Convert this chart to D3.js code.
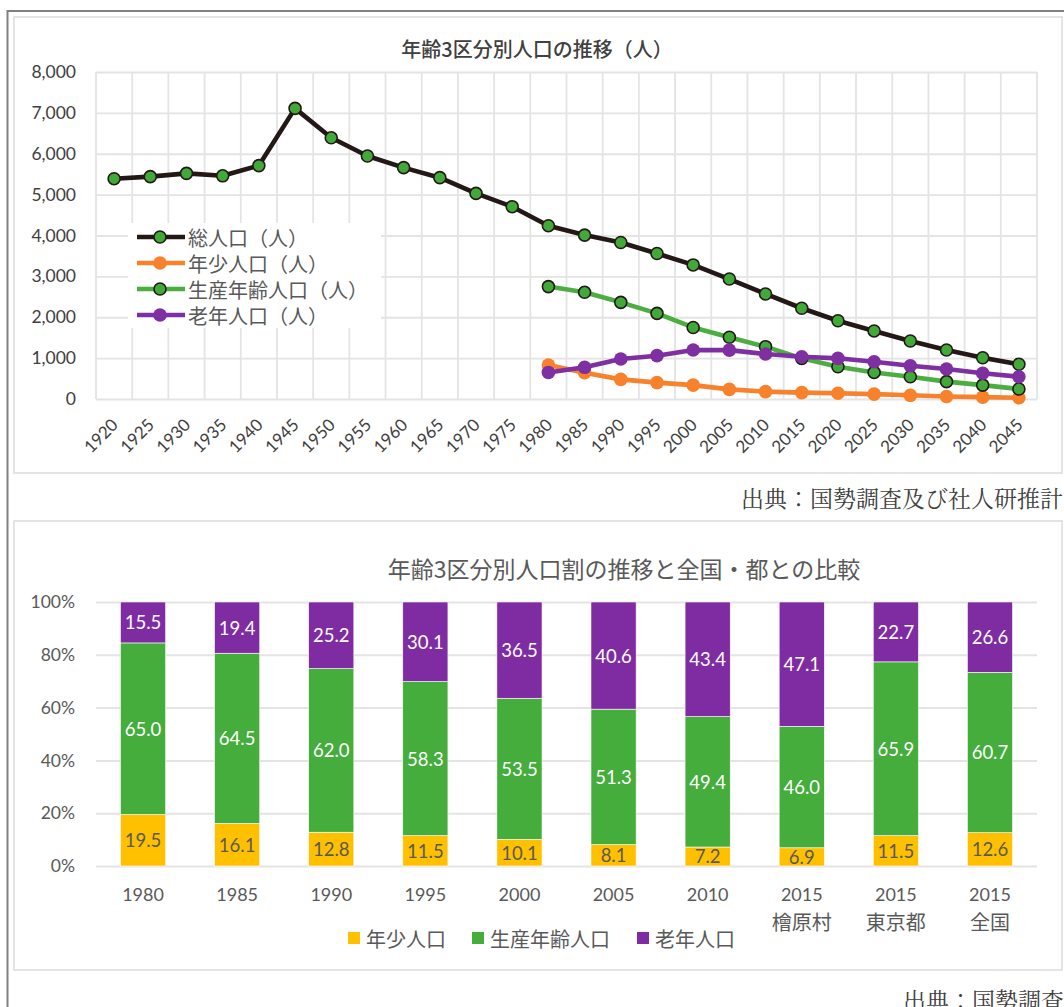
<!DOCTYPE html>
<html>
<head>
<meta charset="utf-8">
<script src="https://cdn.jsdelivr.net/npm/d3@7"></script>
<style>
  body { margin: 0; background: #fff; }
  svg { display: block; }
</style>
</head>
<body>
<div id="chart"></div>
<script>
// 上段：年齢3区分別人口の推移（人）
const years = [1920, 1925, 1930, 1935, 1940, 1945, 1950, 1955, 1960, 1965, 1970, 1975, 1980,
    1985, 1990, 1995, 2000, 2005, 2010, 2015, 2020, 2025, 2030, 2035, 2040, 2045];
const totalPop = [5390, 5440, 5520, 5460, 5710, 7110, 6390, 5945, 5660, 5415, 5030, 4705, 4240,
    4010, 3830, 3560, 3280, 2935, 2570, 2220, 1915, 1665, 1420, 1200, 1010, 850];
const projYears = [1980, 1985, 1990, 1995, 2000, 2005, 2010, 2015, 2020, 2025, 2030, 2035, 2040, 2045];
const youthPop = [830, 645, 480, 400, 340, 235, 180, 155, 140, 120, 90, 60, 45, 30];
const workPop = [2750, 2610, 2365, 2095, 1750, 1510, 1280, 995, 790, 650, 545, 425, 340, 245];
const elderPop = [650, 775, 980, 1060, 1200, 1195, 1100, 1035, 995, 910, 815, 735, 630, 545];
const popTicks = [0, 1000, 2000, 3000, 4000, 5000, 6000, 7000, 8000];
const lineNames = ["総人口（人）", "年少人口（人）", "生産年齢人口（人）", "老年人口（人）"];

// 下段：年齢3区分別人口割の推移と全国・都との比較
const barCats = ["1980", "1985", "1990", "1995", "2000", "2005", "2010", "2015\n檜原村", "2015\n東京都", "2015\n全国"];
const youthPct = [19.5, 16.1, 12.8, 11.5, 10.1, 8.1, 7.2, 6.9, 11.5, 12.6];
const workPct = [65.0, 64.5, 62.0, 58.3, 53.5, 51.3, 49.4, 46.0, 65.9, 60.7];
const elderPct = [15.5, 19.4, 25.2, 30.1, 36.5, 40.6, 43.4, 47.1, 22.7, 26.6];
const pctTicks = [0, 0.2, 0.4, 0.6, 0.8, 1];
const barNames = ["年少人口", "生産年齢人口", "老年人口"];

const width = 1064, height = 1007;
const numFont = "Lato, 'Noto Sans CJK JP', sans-serif";
const jpFont = "'Noto Sans CJK JP', sans-serif";
const srcFont = "'Noto Serif CJK JP', 'Noto Sans CJK JP', serif";

var svg = d3.select("#chart").append("svg")
    .attr("width", width)
    .attr("height", height);

// 外枠
svg.append("path")
    .attr("d", "M7.5," + height + "V11H" + width)
    .attr("fill", "none")
    .attr("stroke", "#808080")
    .attr("stroke-width", 2);

svg.append("rect").attr("x", 14).attr("y", 17).attr("width", 1048).attr("height", 456)
    .attr("fill", "#fff").attr("stroke", "#dcdcdc").attr("stroke-width", 1.5);
svg.append("rect").attr("x", 14).attr("y", 521).attr("width", 1048).attr("height", 449)
    .attr("fill", "#fff").attr("stroke", "#dcdcdc").attr("stroke-width", 1.5);

// ---------- 上段 折れ線 ----------
var x1 = d3.scaleBand().domain(years).range([96, 1037]);
var y1 = d3.scaleLinear().domain([0, 8000]).range([399, 72]);
var cx = d => x1(d) + x1.bandwidth() / 2;

svg.append("text")
    .attr("x", 537).attr("y", 48)
    .attr("text-anchor", "middle").attr("dominant-baseline", "central")
    .attr("font-family", jpFont).attr("font-size", "20px").attr("font-weight", 500)
    .attr("fill", "#404040")
    .text("年齢3区分別人口の推移（人）");

// 縦グリッド
var vx = years.map(d => x1(d)).concat([x1.range()[1]]);
svg.append("g").selectAll("line")
    .data(vx)
    .enter().append("line")
    .attr("x1", d => d).attr("x2", d => d)
    .attr("y1", y1(8000)).attr("y2", y1(0))
    .attr("stroke", "#e4e4e4").attr("stroke-width", 1.8);

// y軸
var yAxis1 = d3.axisLeft(y1)
    .tickValues(popTicks)
    .tickSize(-(x1.range()[1] - x1.range()[0]))
    .tickPadding(20)
    .tickFormat(d3.format(","));
var gy1 = svg.append("g")
    .attr("transform", "translate(" + x1.range()[0] + ",0)")
    .call(yAxis1);
gy1.select(".domain").remove();
gy1.selectAll("line").attr("stroke", "#e4e4e4").attr("stroke-width", 1.8);
gy1.selectAll("text")
    .attr("font-family", numFont).attr("font-size", "17.5px").attr("fill", "#404040");

// x軸
var xAxis1 = d3.axisBottom(x1).tickSize(0);
var gx1 = svg.append("g")
    .attr("transform", "translate(0," + y1(0) + ")")
    .call(xAxis1);
gx1.select(".domain").remove();
gx1.selectAll("text")
    .attr("y", 0).attr("dy", 0)
    .attr("transform", "translate(5,27) rotate(-45)")
    .attr("text-anchor", "end")
    .attr("font-family", numFont).attr("font-size", "17px").attr("fill", "#404040");

// 凡例（プロット内、白地）
var lg1 = svg.append("g");
lg1.append("rect")
    .attr("x", 128).attr("y", 223).attr("width", 253).attr("height", 105)
    .attr("fill", "#fff");

var line = d3.line()
    .x(d => cx(d.year))
    .y(d => y1(d.value));

function toPts(xs, vs) {
    return xs.map((x, i) => ({year: x, value: vs[i]}));
}

var series = [
    {name: lineNames[0], data: toPts(years, totalPop), color: "#231815", fill: "#41a93a", stroke: "#231815"},
    {name: lineNames[1], data: toPts(projYears, youthPop), color: "#f8812b", fill: "#f8812b", stroke: "none"},
    {name: lineNames[2], data: toPts(projYears, workPop), color: "#4cae40", fill: "#41a93a", stroke: "#231815"},
    {name: lineNames[3], data: toPts(projYears, elderPop), color: "#7e2fa2", fill: "#7e2fa2", stroke: "none"}
];

series.forEach(function(s) {
    var g = svg.append("g");
    g.append("path")
        .datum(s.data)
        .attr("d", line)
        .attr("fill", "none")
        .attr("stroke", s.color)
        .attr("stroke-width", 4.6)
        .attr("stroke-linejoin", "round");
    g.selectAll("circle")
        .data(s.data)
        .enter().append("circle")
        .attr("cx", d => cx(d.year))
        .attr("cy", d => y1(d.value))
        .attr("r", s.stroke === "none" ? 6.8 : 6)
        .attr("fill", s.fill)
        .attr("stroke", s.stroke)
        .attr("stroke-width", 1.6);
});

series.forEach(function(s, i) {
    var yy = 237 + i * 26;
    lg1.append("line")
        .attr("x1", 137).attr("x2", 185).attr("y1", yy).attr("y2", yy)
        .attr("stroke", s.color).attr("stroke-width", 4.6);
    lg1.append("circle")
        .attr("cx", 160).attr("cy", yy)
        .attr("r", s.stroke === "none" ? 6.8 : 6)
        .attr("fill", s.fill).attr("stroke", s.stroke).attr("stroke-width", 1.6);
    lg1.append("text")
        .attr("x", 188).attr("y", yy)
        .attr("dominant-baseline", "central")
        .attr("font-family", jpFont).attr("font-size", "20px").attr("fill", "#595959")
        .text(s.name);
});

svg.append("text")
    .attr("x", 741).attr("y", 497)
    .attr("dominant-baseline", "central")
    .attr("font-family", srcFont).attr("font-size", "23px").attr("fill", "#404040")
    .text("出典：国勢調査及び社人研推計");

// ---------- 下段 積み上げ棒 ----------
var x2 = d3.scaleBand().domain(barCats).range([96, 1037])
    .paddingInner(0.52).paddingOuter(0.26);
var y2 = d3.scaleLinear().domain([0, 1]).range([866, 602]);

svg.append("text")
    .attr("x", 624).attr("y", 568)
    .attr("text-anchor", "middle").attr("dominant-baseline", "central")
    .attr("font-family", jpFont).attr("font-size", "23px")
    .attr("fill", "#595959")
    .text("年齢3区分別人口割の推移と全国・都との比較");

var yAxis2 = d3.axisLeft(y2)
    .tickValues(pctTicks)
    .tickSize(-(x2.range()[1] - x2.range()[0]))
    .tickPadding(21)
    .tickFormat(d3.format(".0%"));
var gy2 = svg.append("g")
    .attr("transform", "translate(" + x2.range()[0] + ",0)")
    .call(yAxis2);
gy2.select(".domain").remove();
gy2.selectAll("line").attr("stroke", "#e4e4e4").attr("stroke-width", 2);
gy2.selectAll("text")
    .attr("font-family", numFont).attr("font-size", "17.5px").attr("fill", "#595959");

var rows = barCats.map((c, i) => ({cat: c, youth: youthPct[i], work: workPct[i], elder: elderPct[i]}));
var keys = ["youth", "work", "elder"];
var barColors = {youth: "#ffc000", work: "#44ad3b", elder: "#7f2ca3"};
var labelColors = {youth: "#595959", work: "#fff", elder: "#fff"};
var stacked = d3.stack().keys(keys).offset(d3.stackOffsetExpand)(rows);

stacked.forEach(function(layer) {
    var g = svg.append("g");
    g.selectAll("rect")
        .data(layer)
        .enter().append("rect")
        .attr("x", d => x2(d.data.cat))
        .attr("y", d => y2(d[1]))
        .attr("width", x2.bandwidth())
        .attr("height", d => y2(d[0]) - y2(d[1]))
        .attr("fill", barColors[layer.key])
        .attr("stroke", "#fff")
        .attr("stroke-width", 0.6);
    g.selectAll("text")
        .data(layer)
        .enter().append("text")
        .attr("x", d => x2(d.data.cat) + x2.bandwidth() / 2)
        .attr("y", d => (y2(d[0]) + y2(d[1])) / 2)
        .attr("text-anchor", "middle")
        .attr("dominant-baseline", "central")
        .attr("font-family", numFont).attr("font-size", "18.5px")
        .attr("fill", labelColors[layer.key])
        .text(d => d.data[layer.key].toFixed(1));
});

var gx2 = svg.append("g")
    .attr("transform", "translate(0," + y2(0) + ")")
    .call(d3.axisBottom(x2).tickSize(0));
gx2.select(".domain").remove();
gx2.selectAll("text").each(function(d) {
    var t = d3.select(this).text("").attr("y", 0).attr("dy", 0)
        .attr("fill", "#595959").attr("font-family", numFont);
    d.split("\n").forEach(function(part, i) {
        t.append("tspan")
            .attr("x", 0)
            .attr("y", i === 0 ? 28 : 56)
            .attr("dominant-baseline", "central")
            .attr("font-size", i === 0 ? "18px" : "20px")
            .text(part);
    });
});

// 凡例
var lg2 = svg.append("g");
var lgX = [348, 472, 637];
keys.forEach(function(k, i) {
    lg2.append("rect")
        .attr("x", lgX[i]).attr("y", 932).attr("width", 12).attr("height", 12)
        .attr("fill", barColors[k]);
    lg2.append("text")
        .attr("x", lgX[i] + 18).attr("y", 938)
        .attr("dominant-baseline", "central")
        .attr("font-family", jpFont).attr("font-size", "20px").attr("fill", "#595959")
        .text(barNames[i]);
});

svg.append("text")
    .attr("x", 903).attr("y", 999)
    .attr("dominant-baseline", "central")
    .attr("font-family", srcFont).attr("font-size", "23px").attr("fill", "#404040")
    .text("出典：国勢調査");
</script>
</body>
</html>
